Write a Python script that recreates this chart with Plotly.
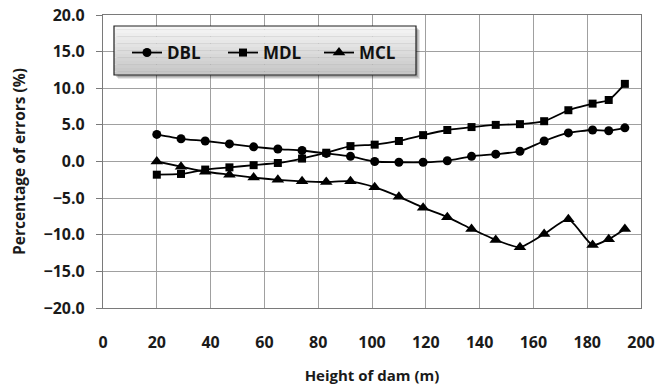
import plotly.graph_objects as go

heights = [20, 29, 38, 47, 56, 65, 74, 83, 92, 101, 110, 119, 128, 137, 146, 155, 164, 173, 182, 188, 194]
dbl = [3.7, 3.1, 2.8, 2.4, 2.0, 1.7, 1.5, 1.1, 0.7, 0.0, -0.1, -0.1, 0.1, 0.7, 1.0, 1.4, 2.8, 3.9, 4.3, 4.2, 4.6]
mdl = [-1.8, -1.7, -1.1, -0.8, -0.5, -0.2, 0.4, 1.2, 2.1, 2.3, 2.8, 3.6, 4.3, 4.7, 5.0, 5.1, 5.5, 7.0, 7.9, 8.4, 10.6]
mcl = [0.0, -0.7, -1.4, -1.8, -2.2, -2.5, -2.7, -2.8, -2.7, -3.5, -4.8, -6.3, -7.6, -9.2, -10.7, -11.7, -9.9, -7.9, -11.4, -10.6, -9.2]

series = [("DBL", dbl, "circle", 9), ("MDL", mdl, "square", 8), ("MCL", mcl, "triangle-up", 11)]

FONT = "Open Sans"
W, H = 656, 389
L, R, T, B = 103, 15, 15, 81
pw, ph = W - L - R, H - T - B

def px2x(px):
    return (px - L) / pw

def px2y(py):
    return (H - B - py) / ph

fig = go.Figure()
for name, vals, sym, sz in series:
    fig.add_trace(go.Scatter(
        x=heights, y=vals, name=name, mode="lines+markers",
        line=dict(color="black", width=1.8, shape="spline", smoothing=0.6),
        marker=dict(symbol=sym, size=sz, color="black"),
    ))

shapes = []
# legend box shadow (soft)
for off, a in [(4, 0.10), (3, 0.12), (2, 0.15)]:
    shapes.append(dict(type="rect", xref="paper", yref="paper",
                       x0=px2x(114 + off), x1=px2x(416 + off), y0=px2y(75 + off), y1=px2y(26 + off),
                       fillcolor=f"rgba(0,0,0,{a})", line=dict(width=0), layer="above"))
# gradient bands
x0, x1, y0, y1 = 114, 416, 26, 75
n = 14
for i in range(n):
    t = i / (n - 1)
    c = int(246 - t * (246 - 198))
    ya = y0 + (y1 - y0) * i / n
    yb = y0 + (y1 - y0) * (i + 1) / n
    shapes.append(dict(type="rect", xref="paper", yref="paper",
                       x0=px2x(x0), x1=px2x(x1), y0=px2y(yb), y1=px2y(ya),
                       fillcolor=f"rgb({c},{c},{c})", line=dict(width=0), layer="above"))
shapes.append(dict(type="rect", xref="paper", yref="paper",
                   x0=px2x(x0), x1=px2x(x1), y0=px2y(y1), y1=px2y(y0),
                   fillcolor="rgba(0,0,0,0)", line=dict(color="#202020", width=1.2), layer="above"))

fig.update_layout(
    width=W, height=H,
    margin=dict(l=L, r=R, t=T, b=B, autoexpand=False),
    paper_bgcolor="white", plot_bgcolor="white",
    font=dict(family=FONT, color="#1a1a1a"),
    shapes=shapes,
    showlegend=True,
    legend=dict(
        orientation="h", x=px2x(127), y=px2y(35), xanchor="left", yanchor="top",
        bgcolor="rgba(0,0,0,0)", borderwidth=0,
        font=dict(family=FONT, size=17, color="#111111", weight="bold"),
        entrywidth=51, itemsizing="trace",
    ),
    xaxis=dict(
        range=[0, 200], dtick=20, tick0=0, automargin=False,
        showgrid=True, gridcolor="#a0a0a0", gridwidth=1,
        showline=True, linecolor="#7a7a7a", linewidth=1.3, mirror=True,
        ticks="", zeroline=False, ticklabelstandoff=20,
        tickfont=dict(family=FONT, size=16, color="#1a1a1a", weight="bold"),
        title=dict(text="Height of dam (m)", standoff=18,
                   font=dict(family=FONT, size=15, color="#1a1a1a", weight="bold")),
    ),
    yaxis=dict(
        range=[-20, 20], dtick=5, tick0=-20, tickformat=".1f", automargin=False,
        showgrid=True, gridcolor="#a0a0a0", gridwidth=1,
        showline=True, linecolor="#7a7a7a", linewidth=1.3, mirror=True,
        ticks="outside", ticklen=6, tickcolor="#7a7a7a", ticklabelstandoff=8,
        zeroline=False,
        tickfont=dict(family=FONT, size=16, color="#1a1a1a", weight="bold"),
        title=dict(text="Percentage of errors (%)", standoff=14,
                   font=dict(family=FONT, size=15.5, color="#1a1a1a", weight="bold")),
    ),
)

fig.write_html("out.html")
